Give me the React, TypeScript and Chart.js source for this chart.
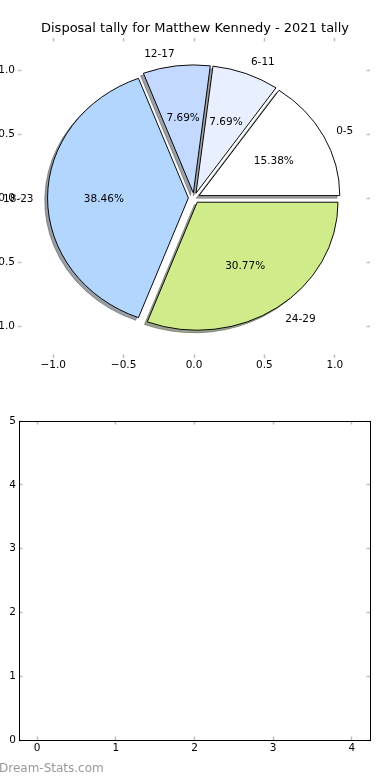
import React, { useEffect, useRef } from 'react';
import { Chart, registerables } from 'chart.js';

Chart.register(...registerables);

const FONT = "'DejaVu Sans', 'Noto Sans', sans-serif";

// ---- data ----
const chartTitle = 'Disposal tally for Matthew Kennedy - 2021 tally';
const pieCategories = ['0-5', '6-11', '12-17', '18-23', '24-29'];
const pieValues = [2, 1, 1, 5, 4];
const pieColors = ['#ffffff', '#e8f0ff', '#c3d9ff', '#b3d6ff', '#d0eb8a'];

const pieTickValues = [-1, -0.5, 0, 0.5, 1];
const pieTickLabels = ['\u22121.0', '\u22120.5', '0.0', '0.5', '1.0'];

const barXTickValues = [0, 1, 2, 3, 4];
const barXTickLabels = ['0', '1', '2', '3', '4'];
const barYTickValues = [0, 1, 2, 3, 4, 5];
const barYTickLabels = ['0', '1', '2', '3', '4', '5'];

const watermark = 'Dream-Stats.com';

// ---- pie geometry options (matplotlib-like) ----
const EXPLODE = 0.04;
const LABEL_DIST = 1.1;
const PCT_DIST = 0.6;
const SHADOW_DX = -0.02;
const SHADOW_DY = -0.02;

const TICK_COLOR = '#bdbdbd';
const SMALL_FONT = 10.5;
const TEXT_NUDGE_Y = 1.2;

function shadowColor(hex: string) {
  const r = parseInt(hex.slice(1, 3), 16);
  const g = parseInt(hex.slice(3, 5), 16);
  const b = parseInt(hex.slice(5, 7), 16);
  return `rgba(${Math.round(r * 0.3)},${Math.round(g * 0.3)},${Math.round(b * 0.3)},0.5)`;
}

function axis(
  position: string,
  min: number,
  max: number,
  values: number[],
  labels: string[],
  showLabels: boolean,
  size: number,
  padding: number,
  spine: boolean
) {
  const vertical = position === 'left' || position === 'right';
  return {
    type: 'linear',
    position,
    min,
    max,
    afterBuildTicks: (s: any) => {
      s.ticks = values.map((v) => ({ value: v }));
    },
    afterFit: (s: any) => {
      if (vertical) s.width = size;
      else s.height = size;
    },
    grid: {
      display: true,
      drawOnChartArea: false,
      drawTicks: true,
      tickLength: -3.5,
      tickColor: TICK_COLOR,
      tickWidth: 1.5,
    },
    border: { display: spine, color: '#000', width: 1 },
    ticks: {
      display: showLabels,
      autoSkip: false,
      maxRotation: 0,
      minRotation: 0,
      padding,
      color: '#000',
      font: { family: FONT, size: SMALL_FONT },
      callback: (_v: any, i: number) => labels[i],
    },
  };
}

export default function App() {
  const axesRef = useRef<HTMLCanvasElement>(null);
  const pieRef = useRef<HTMLCanvasElement>(null);
  const barRef = useRef<HTMLCanvasElement>(null);

  useEffect(() => {
    const axesChart = new Chart(axesRef.current as HTMLCanvasElement, {
      type: 'scatter',
      data: { datasets: [] },
      options: {
        animation: false,
        responsive: false,
        events: [],
        layout: { padding: 0 },
        plugins: {
          legend: { display: false },
          tooltip: { enabled: false },
          title: {
            display: true,
            text: chartTitle,
            color: '#000',
            font: { family: FONT, size: 13, weight: 'normal', lineHeight: 1.2 },
            padding: { top: 21, bottom: 1.4 },
          },
        },
        scales: {
          x: axis('bottom', -1.25, 1.25, pieTickValues, pieTickLabels, true, 42, 4.5, false),
          x2: axis('top', -1.25, 1.25, pieTickValues, pieTickLabels, false, 0, 0, false),
          y: axis('left', -1.25, 1.25, pieTickValues, pieTickLabels, true, 18, 6.5, false),
          y2: axis('right', -1.25, 1.25, pieTickValues, pieTickLabels, false, 20, 0, false),
        },
      } as any,
    });

    const xs: any = axesChart.scales.x;
    const ys: any = axesChart.scales.y;
    const unitX = xs.getPixelForValue(1) - xs.getPixelForValue(0);

    const total = pieValues.reduce((a, b) => a + b, 0);
    const pctLabels = pieValues.map((v) => ((v / total) * 100).toFixed(2) + '%');

    const piePlugin = {
      id: 'mplPie',
      beforeDatasetDraw(chart: any) {
        const ctx = chart.ctx as CanvasRenderingContext2D;
        const arcs: any[] = chart.getDatasetMeta(0).data;
        if (!arcs.length) return false;
        const R = arcs[0].outerRadius;
        const cx = arcs[0].x;
        const cy = arcs[0].y;
        const sx = (xs.getPixelForValue(1) - xs.getPixelForValue(0)) / R;
        const sy = (ys.getPixelForValue(1) - ys.getPixelForValue(0)) / R;
        ctx.save();
        ctx.translate(xs.getPixelForValue(0), ys.getPixelForValue(0));
        ctx.scale(sx, sy);
        ctx.translate(-cx, -cy);
        // shadows below all wedges
        arcs.forEach((arc, i) => {
          const mid = (arc.startAngle + arc.endAngle) / 2;
          const ox = cx + (Math.cos(mid) * EXPLODE + SHADOW_DX) * R;
          const oy = cy + (Math.sin(mid) * EXPLODE + SHADOW_DY) * R;
          ctx.beginPath();
          ctx.moveTo(ox, oy);
          ctx.arc(ox, oy, R, arc.startAngle, arc.endAngle);
          ctx.closePath();
          const c = shadowColor(pieColors[i]);
          ctx.fillStyle = c;
          ctx.fill();
          ctx.strokeStyle = c;
          ctx.lineWidth = 1;
          ctx.stroke();
        });
        // wedges, exploded
        arcs.forEach((arc) => {
          const mid = (arc.startAngle + arc.endAngle) / 2;
          ctx.save();
          ctx.translate(Math.cos(mid) * EXPLODE * R, Math.sin(mid) * EXPLODE * R);
          arc.draw(ctx);
          ctx.restore();
        });
        ctx.restore();
        return false;
      },
      afterDatasetsDraw(chart: any) {
        const ctx = chart.ctx as CanvasRenderingContext2D;
        const arcs: any[] = chart.getDatasetMeta(0).data;
        ctx.save();
        ctx.fillStyle = '#000';
        ctx.font = `${SMALL_FONT}px ${FONT}`;
        ctx.textBaseline = 'middle';
        arcs.forEach((arc, i) => {
          const mid = (arc.startAngle + arc.endAngle) / 2;
          const c = Math.cos(mid);
          const s = Math.sin(mid);
          const lx = (EXPLODE + LABEL_DIST) * c;
          const ly = (EXPLODE + LABEL_DIST) * s;
          ctx.textAlign = lx > 0 ? 'left' : 'right';
          ctx.fillText(
            pieCategories[i],
            xs.getPixelForValue(lx),
            ys.getPixelForValue(ly) + TEXT_NUDGE_Y
          );
          const px = (EXPLODE + PCT_DIST) * c;
          const py = (EXPLODE + PCT_DIST) * s;
          ctx.textAlign = 'center';
          ctx.fillText(
            pctLabels[i],
            xs.getPixelForValue(px),
            ys.getPixelForValue(py) + TEXT_NUDGE_Y
          );
        });
        ctx.restore();
      },
    };

    const pieChart = new Chart(pieRef.current as HTMLCanvasElement, {
      type: 'pie',
      data: {
        labels: pieCategories,
        datasets: [
          {
            data: pieValues,
            backgroundColor: pieColors,
            borderColor: '#000',
            borderWidth: 1,
            borderJoinStyle: 'miter',
            radius: unitX,
            hoverOffset: 0,
          },
        ],
      },
      options: {
        animation: false,
        responsive: false,
        events: [],
        rotation: 90,
        plugins: { legend: { display: false }, tooltip: { enabled: false } },
      } as any,
      plugins: [piePlugin],
    });

    const barChart = new Chart(barRef.current as HTMLCanvasElement, {
      type: 'scatter',
      data: { datasets: [] },
      options: {
        animation: false,
        responsive: false,
        events: [],
        layout: { padding: { top: 21, left: 0, right: 0, bottom: 0 } },
        plugins: { legend: { display: false }, tooltip: { enabled: false } },
        scales: {
          x: axis('bottom', -0.23, 4.23, barXTickValues, barXTickLabels, true, 40, 5.5, true),
          x2: axis('top', -0.23, 4.23, barXTickValues, barXTickLabels, false, 0, 0, true),
          y: axis('left', 0, 5, barYTickValues, barYTickLabels, true, 19, 6.5, true),
          y2: axis('right', 0, 5, barYTickValues, barYTickLabels, false, 20, 0, true),
        },
      } as any,
    });

    return () => {
      pieChart.destroy();
      axesChart.destroy();
      barChart.destroy();
    };
  }, []);

  return (
    <div style={{ position: 'relative', width: 390, height: 780, overflow: 'hidden', background: '#fff' }}>
      <style>{'html,body{margin:0;padding:0;background:#fff;}'}</style>
      <canvas
        ref={axesRef}
        width={390}
        height={400}
        style={{ position: 'absolute', left: 0, top: 0, width: 390, height: 400 }}
      />
      <canvas
        ref={pieRef}
        width={390}
        height={400}
        style={{ position: 'absolute', left: 0, top: 0, width: 390, height: 400 }}
      />
      <canvas
        ref={barRef}
        width={390}
        height={380}
        style={{ position: 'absolute', left: 0, top: 400, width: 390, height: 380 }}
      />
      <div
        style={{
          position: 'absolute',
          left: -1,
          top: 761,
          fontFamily: FONT,
          fontSize: 12,
          lineHeight: '14px',
          color: '#999',
          whiteSpace: 'nowrap',
        }}
      >
        {watermark}
      </div>
    </div>
  );
}
